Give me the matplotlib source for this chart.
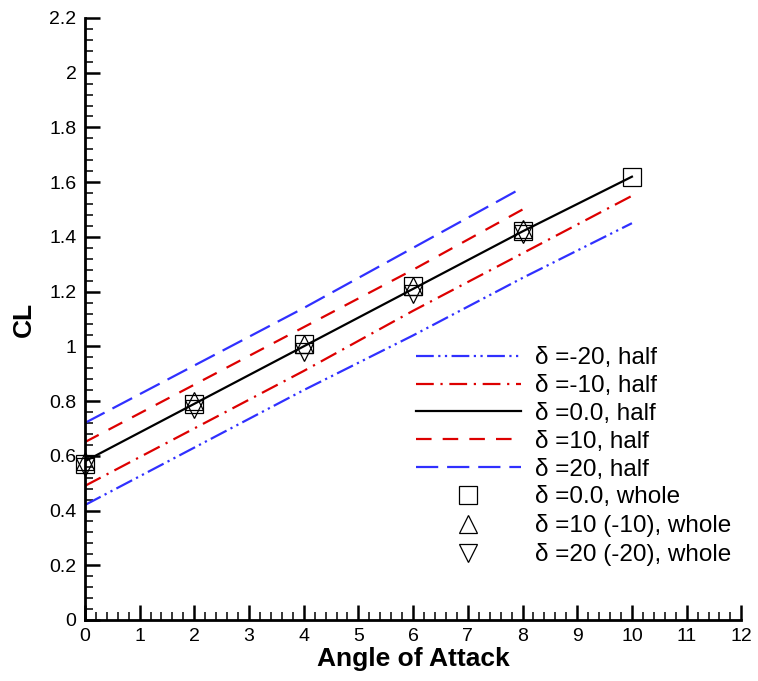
import matplotlib
matplotlib.use("Agg")
import matplotlib.pyplot as plt
from matplotlib.ticker import MultipleLocator

plt.rcParams["font.family"] = ["Liberation Sans", "DejaVu Sans"]

# half-model lines (CL vs angle of attack)
aoa_long = [0, 2, 4, 6, 8, 10]
aoa_short = [0, 2, 4, 6, 8]
cl_m20 = [0.42, 0.63, 0.84, 1.04, 1.25, 1.45]
cl_m10 = [0.49, 0.70, 0.91, 1.13, 1.34, 1.55]
cl_0 = [0.58, 0.79, 1.00, 1.21, 1.42, 1.62]
cl_p10 = [0.65, 0.86, 1.07, 1.28, 1.50]
cl_p20 = [0.72, 0.93, 1.14, 1.36, 1.58]

# whole-model points
aoa_sq = [0, 2, 4, 6, 8, 10]
cl_sq = [0.57, 0.79, 1.01, 1.22, 1.42, 1.62]
aoa_tri = [0, 2, 4, 6, 8]
cl_up = [0.58, 0.80, 1.01, 1.22, 1.43]
cl_down = [0.56, 0.77, 0.98, 1.19, 1.41]

ytick_vals = [0, 0.2, 0.4, 0.6, 0.8, 1, 1.2, 1.4, 1.6, 1.8, 2, 2.2]
ytick_text = ["0", "0.2", "0.4", "0.6", "0.8", "1", "1.2", "1.4", "1.6", "1.8", "2", "2.2"]

fig = plt.figure(figsize=(7.58, 6.81), dpi=100)
ax = fig.add_axes([0.112, 0.0896, 0.866, 0.884])

lw = 1.6
ax.plot(aoa_long, cl_m20, color="#3030ff", lw=lw, dashes=(8, 2, 1, 2, 1, 2), label="δ =-20, half")
ax.plot(aoa_long, cl_m10, color="#dd0000", lw=lw, dashes=(8, 3, 1, 3), label="δ =-10, half")
ax.plot(aoa_long, cl_0, color="black", lw=lw, label="δ =0.0, half")
ax.plot(aoa_short, cl_p10, color="#dd0000", lw=lw, dashes=(7, 5), label="δ =10, half")
ax.plot(aoa_short, cl_p20, color="#3030ff", lw=lw, dashes=(10, 4), label="δ =20, half")

mk = dict(ls="none", mfc="none", mec="black", mew=0.9, ms=12.5, clip_on=False)
ax.plot(aoa_sq, cl_sq, marker="s", label="δ =0.0, whole", **mk)
ax.plot(aoa_tri, cl_up, marker="^", label="δ =10 (-10), whole", **mk)
ax.plot(aoa_tri, cl_down, marker="v", label="δ =20 (-20), whole", **mk)

ax.set_xlim(0, 12)
ax.set_ylim(0, 2.2)
ax.xaxis.set_major_locator(MultipleLocator(1))
ax.xaxis.set_minor_locator(MultipleLocator(0.2))
ax.set_yticks(ytick_vals)
ax.set_yticklabels(ytick_text)
ax.yaxis.set_minor_locator(MultipleLocator(0.04))

ax.spines["top"].set_visible(False)
ax.spines["right"].set_visible(False)
ax.spines["left"].set_linewidth(2.0)
ax.spines["bottom"].set_linewidth(2.0)
ax.tick_params(which="major", direction="in", length=10.5, width=1.8, labelsize=14, pad=6)
ax.tick_params(which="minor", direction="in", length=6, width=1.1)

ax.set_xlabel("Angle of Attack", fontsize=19, fontweight="bold", labelpad=1)
ax.set_ylabel("CL", fontsize=19, fontweight="bold", labelpad=10)

ax.legend(loc="upper left", bbox_to_anchor=(404 / 758, 1 - 335 / 681),
          bbox_transform=fig.transFigure, frameon=False, fontsize=17.5,
          handlelength=4.3, handletextpad=0.6, labelspacing=0.24, borderpad=0)

fig.savefig("out.png", dpi=100)
